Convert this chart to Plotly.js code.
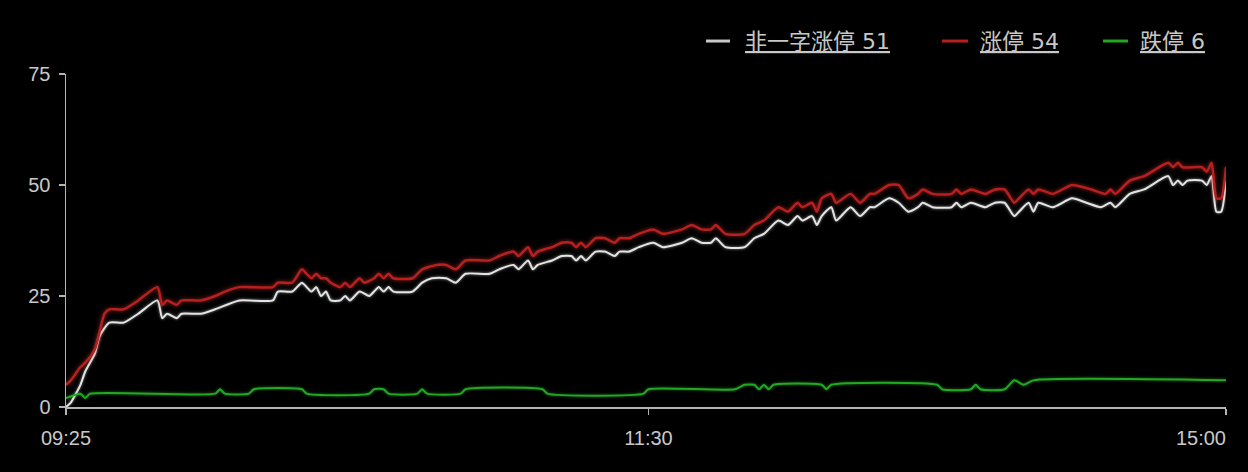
<!DOCTYPE html>
<html>
<head>
<meta charset="utf-8">
<script src="https://cdn.plot.ly/plotly-3.0.1.min.js"></script>
<style>
html,body{margin:0;padding:0;background:#000;}
#chart{width:1248px;height:472px;}
.scatterlayer .trace:nth-child(1) .js-line{filter:drop-shadow(0 0 1.5px rgba(255,255,255,0.55));}
.scatterlayer .trace:nth-child(2) .js-line{filter:drop-shadow(0 0 2px rgba(230,50,50,0.65));}
.scatterlayer .trace:nth-child(3) .js-line{filter:drop-shadow(0 0 1.5px rgba(60,220,60,0.5));}
</style>
</head>
<body>
<div id="chart"></div>
<script>
// Legend names
var seriesNames = ["非一字涨停 51", "涨停 54", "跌停 6"];
var seriesColors = ["#e4e4e4", "#b82020", "#22a822"];

// Axis tick labels
var tickVals = ["09:25", "11:30", "15:00"];
var tickLabels = ["09:25", "11:30", "15:00"];
var yTicks = [0, 25, 50, 75];

// 涨停 (red)
var redTimes = [
 "09:25","09:30","09:32","09:33","09:35","09:36","09:37","09:38","09:41","09:44",
 "09:48","09:49","09:50","09:52","09:53","09:57","10:00","10:02","10:05","10:12",
 "10:13","10:16","10:18","10:19","10:20","10:21","10:22","10:23","10:24","10:26",
 "10:27","10:28","10:30","10:31","10:33","10:34","10:35","10:36","10:37","10:41",
 "10:43","10:46","10:48","10:50","10:52","10:57","10:59","11:02","11:03","11:05",
 "11:06","11:07","11:10","11:12","11:14","11:15","11:16","11:17","11:19","11:21",
 "11:23","11:24","11:26","11:28","13:01","13:03","13:07","13:09","13:11","13:13",
 "13:14","13:16","13:20","13:22","13:24","13:27","13:29","13:31","13:32","13:34",
 "13:35","13:36","13:38","13:39","13:42","13:44","13:46","13:47","13:50","13:52",
 "13:54","13:56","13:57","13:59","14:03","14:04","14:05","14:07","14:10","14:12",
 "14:14","14:16","14:17","14:19","14:20","14:21","14:24","14:28","14:32","14:35",
 "14:36","14:37","14:40","14:43","14:48","14:49","14:50","14:51","14:55","14:56",
 "14:57","14:58","14:59","15:00"];
var redValues = [
 5,6,9,10,13,17,21,22,22,24,
 27,23,24,23,24,24,25,26,27,27,
 28,28,31,30,29,30,29,29,28,27,
 28,27,29,28,29,30,29,30,29,29,
 31,32,32,31,33,33,34,35,34,36,
 34,35,36,37,37,36,37,36,38,38,
 37,38,38,39,40,39,40,41,40,40,
 41,39,39,41,42,45,44,46,45,46,
 44,47,48,46,48,46,48,48,50,50,
 47,48,49,48,48,49,48,49,48,49,
 49,46,47,49,48,49,48,50,49,48,
 49,48,51,52,55,54,55,54,54,53,
 55,47,47,54];

// 非一字涨停 (white)
var whiteTimes = [
 "09:25","09:30","09:32","09:33","09:35","09:36","09:38","09:41","09:44","09:48",
 "09:49","09:50","09:52","09:53","09:57","10:00","10:05","10:12","10:13","10:16",
 "10:18","10:19","10:20","10:21","10:22","10:23","10:24","10:26","10:27","10:28",
 "10:30","10:32","10:33","10:34","10:35","10:36","10:37","10:41","10:43","10:45",
 "10:48","10:50","10:52","10:57","10:59","11:02","11:03","11:05","11:06","11:07",
 "11:10","11:12","11:14","11:15","11:16","11:17","11:19","11:21","11:23","11:24",
 "11:26","11:28","13:01","13:03","13:07","13:09","13:11","13:13","13:14","13:16",
 "13:20","13:22","13:24","13:27","13:29","13:31","13:32","13:34","13:35","13:36",
 "13:38","13:39","13:42","13:44","13:46","13:47","13:50","13:52","13:54","13:56",
 "13:57","13:59","14:03","14:04","14:05","14:07","14:10","14:12","14:14","14:16",
 "14:17","14:19","14:20","14:21","14:24","14:28","14:31","14:34","14:36","14:37",
 "14:40","14:43","14:48","14:49","14:50","14:51","14:52","14:55","14:56","14:57",
 "14:58","14:59","15:00"];
var whiteValues = [
 0,1,5,8,12,16,19,19,21,24,
 20,21,20,21,21,22,24,24,26,26,
 28,27,26,27,25,26,24,24,25,24,
 26,25,26,27,26,27,26,26,28,29,
 29,28,30,30,31,32,31,33,31,32,
 33,34,34,33,34,33,35,35,34,35,
 35,36,37,36,37,38,37,37,38,36,
 36,38,39,42,41,43,42,43,41,43,
 45,42,45,43,45,45,47,46,44,45,
 46,45,45,46,45,46,45,46,46,43,
 44,46,44,46,45,47,46,45,46,45,
 48,49,52,50,51,50,51,51,50,52,
 44,44,51];

// 跌停 (green)
var greenTimes = [
 "09:25","09:32","09:33","09:34","10:00","10:01","10:02","10:07","10:08","10:18",
 "10:19","10:32","10:33","10:35","10:36","10:42","10:43","10:44","10:51","10:52",
 "11:08","11:09","11:29","11:30","13:18","13:20","13:22","13:23","13:24","13:25",
 "13:26","13:36","13:37","13:38","14:00","14:01","14:07","14:08","14:09","14:14",
 "14:16","14:18","14:20","15:00"];
var greenValues = [
 2,3,2,3,3,4,3,3,4,4,
 3,3,4,4,3,3,4,3,3,4,
 4,3,3,4,4,5,5,4,5,4,
 5,5,4,5,5,4,4,5,4,4,
 6,5,6,6];

// Full trading-minute category list for the x axis
function pad(n){ return (n < 10 ? "0" : "") + n; }
function fmt(m){ return pad(Math.floor(m / 60)) + ":" + pad(m % 60); }
var allTimes = ["09:25"];
for (var m = 570; m <= 690; m++) allTimes.push(fmt(m));
for (var m2 = 781; m2 <= 900; m2++) allTimes.push(fmt(m2));

var tickFont = {family: "Liberation Sans, Arial, sans-serif", size: 20, color: "#c8c8c8"};
var legendFont = {family: "DejaVu Sans, Noto Sans CJK SC, sans-serif", size: 22, color: "#c8c8c8", lineposition: "under"};

var traces = [
  {x: whiteTimes, y: whiteValues, name: seriesNames[0], type: "scatter", mode: "lines",
   line: {color: seriesColors[0], width: 2, shape: "spline", smoothing: 0.6}, hoverinfo: "skip"},
  {x: redTimes, y: redValues, name: seriesNames[1], type: "scatter", mode: "lines",
   line: {color: seriesColors[1], width: 2.5, shape: "spline", smoothing: 0.6}, hoverinfo: "skip"},
  {x: greenTimes, y: greenValues, name: seriesNames[2], type: "scatter", mode: "lines",
   line: {color: seriesColors[2], width: 2, shape: "spline", smoothing: 0.6}, hoverinfo: "skip"}
];

// Legend drawn as a row of key lines + labels (top right, above the plot)
var legendSymbolX = [[0.5517, 0.5724], [0.7552, 0.7776], [0.8940, 0.9155]];
var legendTextX = [0.5836, 0.7862, 0.9241];
var legendY = 1.099;
var shapes = [], annotations = [];
for (var i = 0; i < seriesNames.length; i++) {
  shapes.push({type: "line", xref: "paper", yref: "paper",
    x0: legendSymbolX[i][0], x1: legendSymbolX[i][1], y0: legendY, y1: legendY,
    line: {color: i === 0 ? "#c8c8c8" : seriesColors[i], width: 3}});
  annotations.push({xref: "paper", yref: "paper", x: legendTextX[i], y: legendY,
    xanchor: "left", yanchor: "middle", text: seriesNames[i], showarrow: false,
    font: legendFont});
}

var layout = {
  width: 1248, height: 472,
  paper_bgcolor: "#000", plot_bgcolor: "#000",
  margin: {l: 66, r: 22, t: 74, b: 65, autoexpand: false},
  showlegend: false,
  shapes: shapes,
  annotations: annotations,
  xaxis: {
    type: "category", categoryorder: "array", categoryarray: allTimes,
    range: [0, allTimes.length - 1],
    tickmode: "array", tickvals: tickVals, ticktext: tickLabels,
    ticklabelshift: 0,
    showgrid: false, zeroline: false,
    showline: true, linecolor: "#b4b4b4", linewidth: 1.5,
    ticks: "outside", ticklen: 6, tickcolor: "#b4b4b4", tickwidth: 1.5,
    ticklabelstandoff: 6,
    tickfont: tickFont, fixedrange: true
  },
  yaxis: {
    range: [0, 75], tickmode: "array", tickvals: yTicks,
    showgrid: false, zeroline: false,
    showline: true, linecolor: "#b4b4b4", linewidth: 1.5,
    ticks: "outside", ticklen: 6, tickcolor: "#b4b4b4", tickwidth: 1.5,
    ticklabelstandoff: 4,
    tickfont: tickFont, fixedrange: true
  }
};

Plotly.newPlot("chart", traces, layout, {displayModeBar: false, staticPlot: true}).then(function(gd){
  // keep the last time label inside the chart, right-aligned to its tick (as in the original)
  var labels = gd.querySelectorAll(".xtick text");
  var last = labels[labels.length - 1];
  if (last) { last.setAttribute("text-anchor", "end"); }
});
</script>
</body>
</html>
